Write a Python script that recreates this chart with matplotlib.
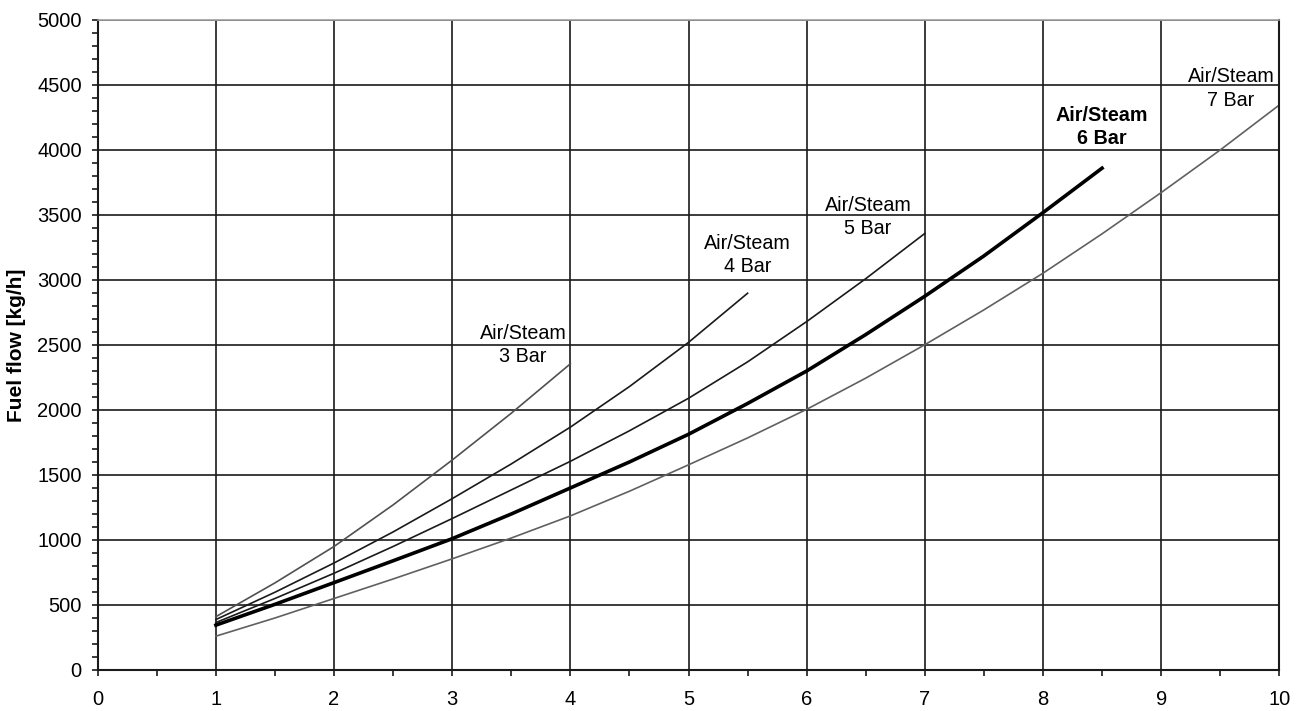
import matplotlib
matplotlib.use('Agg')
import matplotlib.pyplot as plt
from matplotlib.ticker import MultipleLocator

plt.rcParams['font.family'] = ['Liberation Sans', 'DejaVu Sans']

x_3bar = [1, 1.5, 2, 2.5, 3, 3.5, 4]
y_3bar = [410, 670, 950, 1270, 1615, 1975, 2355]

x_4bar = [1, 1.5, 2, 2.5, 3, 3.5, 4, 4.5, 5, 5.5]
y_4bar = [388, 598, 823, 1062, 1318, 1585, 1868, 2180, 2520, 2898]

x_5bar = [1, 1.5, 2, 2.5, 3, 3.5, 4, 4.5, 5, 5.5, 6, 6.5, 7]
y_5bar = [365, 550, 744, 950, 1165, 1385, 1605, 1840, 2090, 2370, 2680, 3010, 3358]

x_6bar = [1, 1.5, 2, 2.5, 3, 3.5, 4, 4.5, 5, 5.5, 6, 6.5, 7, 7.5, 8, 8.5]
y_6bar = [345, 505, 672, 840, 1010, 1200, 1400, 1600, 1813, 2050, 2300, 2580,
          2875, 3185, 3518, 3860]

x_7bar = [1, 1.5, 2, 2.5, 3, 3.5, 4, 4.5, 5, 5.5, 6, 6.5, 7, 7.5, 8, 8.5, 9, 9.5, 10]
y_7bar = [260, 400, 550, 700, 855, 1015, 1185, 1375, 1578, 1785, 2005, 2245,
          2502, 2770, 3052, 3355, 3672, 4000, 4346]

labels = ['Air/Steam\n3 Bar', 'Air/Steam\n4 Bar', 'Air/Steam\n5 Bar',
          'Air/Steam\n6 Bar', 'Air/Steam\n7 Bar']
label_x = [3.6, 5.5, 6.52, 8.5, 9.59]
label_y = [2500, 3194, 3484, 4177, 4474]

fig = plt.figure(figsize=(13.05, 7.11), dpi=100)
ax = fig.add_axes([0.0749, 0.0577, 0.9054, 0.9142])

# curves
ax.plot(x_3bar, y_3bar, color='#505050', lw=1.2)
ax.plot(x_4bar, y_4bar, color='#1a1a1a', lw=1.2)
ax.plot(x_5bar, y_5bar, color='#1a1a1a', lw=1.2)
ax.plot(x_6bar, y_6bar, color='black', lw=2.6)
ax.plot(x_7bar, y_7bar, color='#606060', lw=1.2)

for i, txt in enumerate(labels):
    weight = 'bold' if '6 Bar' in txt else 'normal'
    ax.text(label_x[i], label_y[i], txt, ha='center', va='center',
            fontsize=14.2, fontweight=weight, linespacing=1.3)

ax.set_xlim(0, 10)
ax.set_ylim(0, 5000)
ax.xaxis.set_major_locator(MultipleLocator(1))
ax.xaxis.set_minor_locator(MultipleLocator(0.5))
ax.yaxis.set_major_locator(MultipleLocator(500))
ax.yaxis.set_minor_locator(MultipleLocator(100))

ax.grid(True, which='major', color='#1a1a1a', lw=1.2)
ax.set_axisbelow(True)

ax.tick_params(which='both', direction='out', length=4.5, width=1.2,
               color='#1a1a1a', labelsize=14.5)
ax.tick_params(axis='x', which='both', pad=10)
ax.tick_params(axis='y', which='both', pad=7)
ax.tick_params(axis='x', which='minor', length=4)

for side in ['left', 'bottom', 'right']:
    ax.spines[side].set_color('#1a1a1a')
    ax.spines[side].set_linewidth(1.5)
ax.spines['top'].set_color('#a0a0a0')
ax.spines['top'].set_linewidth(1.2)

ax.set_ylabel('Fuel flow [kg/h]', fontsize=15, fontweight='bold', labelpad=8)

plt.savefig('out.png', dpi=100)
